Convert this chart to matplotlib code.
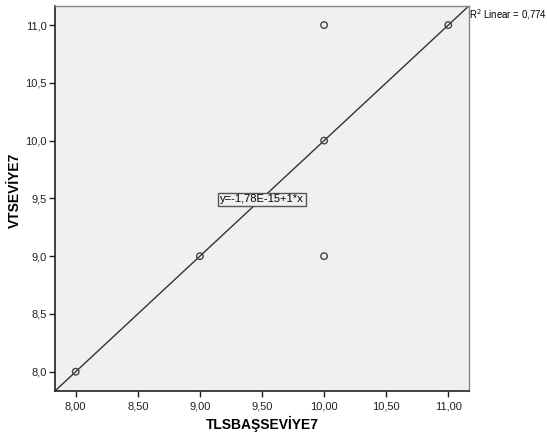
import matplotlib
matplotlib.use("Agg")
import matplotlib.pyplot as plt
import numpy as np
from matplotlib.ticker import FuncFormatter

plt.rcParams["font.family"] = ["Liberation Sans", "DejaVu Sans"]

# observed points (TLSBAŞSEVİYE7, VTSEVİYE7)
x_vals = [8, 9, 10, 10, 10, 11]
y_vals = [8, 9, 9, 10, 11, 11]
x_ticks = [8.0, 8.5, 9.0, 9.5, 10.0, 10.5, 11.0]
y_ticks = [8.0, 8.5, 9.0, 9.5, 10.0, 10.5, 11.0]
fit_label = "y=-1,78E-15+1*x"
r2_label = "R$^2$ Linear = 0,774"

lo, hi = 7.833, 11.165

fig = plt.figure(figsize=(5.47, 4.38), dpi=100)
ax = fig.add_axes([0.1005, 0.1073, 0.7565, 0.879])
ax.set_facecolor("#f0f0f0")

# fit line (slope 1, intercept ~0) across the full axes
xx = np.array([lo, hi])
ax.plot(xx, 1.0 * xx - 1.78e-15, color="#333333", lw=1.0, zorder=2)

ax.scatter(x_vals, y_vals, s=22, facecolors="none", edgecolors="#444444",
           linewidths=1.0, zorder=3)

ax.set_xlim(lo, hi)
ax.set_ylim(lo, hi)
ax.set_xticks(x_ticks)
ax.set_yticks(y_ticks)
ax.xaxis.set_major_formatter(FuncFormatter(lambda v, p: f"{v:.2f}".replace(".", ",")))
ax.yaxis.set_major_formatter(FuncFormatter(lambda v, p: f"{v:.1f}".replace(".", ",")))
ax.tick_params(direction="out", length=4, width=1, labelsize=8, colors="#222222")
ax.tick_params(axis="y", pad=2)

for side in ("left", "bottom"):
    ax.spines[side].set_color("#222222")
    ax.spines[side].set_linewidth(1.2)
for side in ("top", "right"):
    ax.spines[side].set_color("#888888")
    ax.spines[side].set_linewidth(1.0)

ax.set_xlabel("TLSBAŞSEVİYE7", fontsize=10, fontweight="bold", labelpad=3)
ax.set_ylabel("VTSEVİYE7", fontsize=10, fontweight="bold")
ax.yaxis.set_label_coords(-0.08, 0.52)

ax.text(9.5, 9.493, fit_label, ha="center", va="center", fontsize=8,
        bbox=dict(boxstyle="square,pad=0.15", facecolor="#f0f0f0",
                  edgecolor="#555555", lw=1.0), zorder=4)

ax.text(1.001, 0.978, r2_label, transform=ax.transAxes, ha="left", va="center",
        fontsize=6.9, clip_on=False)

fig.savefig("out.png", dpi=100)
